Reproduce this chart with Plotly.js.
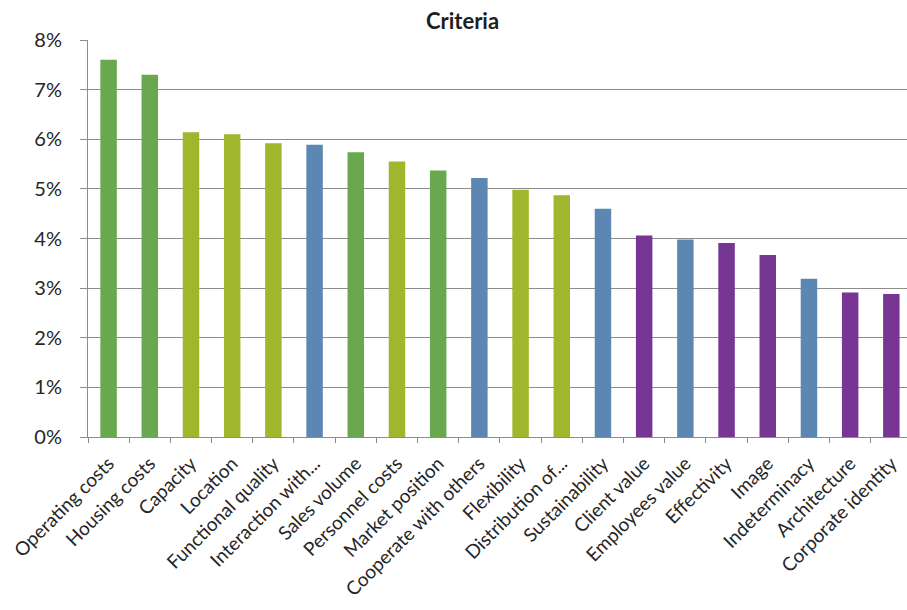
<!DOCTYPE html>
<html>
<head>
<meta charset="utf-8">
<script src="https://cdn.plot.ly/plotly-3.0.1.min.js"></script>
<style>
  html, body { margin: 0; padding: 0; background: #fff; }
  #chart { width: 907px; height: 610px; }
</style>
</head>
<body>
<div id="chart"></div>
<script>
// Criteria weights, in percent
const criteria = [
  "Operating costs", "Housing costs", "Capacity", "Location", "Functional quality",
  "Interaction with...", "Sales volume", "Personnel costs", "Market position",
  "Cooperate with others", "Flexibility", "Distribution of...", "Sustainability",
  "Client value", "Employees value", "Effectivity", "Image", "Indeterminacy",
  "Architecture", "Corporate identity"
];
const weights = [
  7.60, 7.30, 6.14, 6.10, 5.92,
  5.89, 5.74, 5.55, 5.37,
  5.22, 4.98, 4.87, 4.60,
  4.06, 3.98, 3.91, 3.67, 3.19,
  2.91, 2.88
];
// Group of each criterion (sets the bar colour)
const groups = [
  "cost", "cost", "function", "function", "function",
  "relation", "cost", "function", "cost",
  "relation", "function", "function", "relation",
  "value", "relation", "value", "value", "relation",
  "value", "value"
];
const groupColors = {
  cost: "#6aa84f",
  function: "#a0b62c",
  relation: "#5b87b2",
  value: "#773594"
};

const trace = {
  type: "bar",
  x: criteria,
  y: weights,
  width: 0.4,
  marker: { color: groups.map(g => groupColors[g]) },
  hoverinfo: "x+y"
};

const layout = {
  width: 907,
  height: 610,
  margin: { l: 88, r: 0, t: 40, b: 173 },
  paper_bgcolor: "#ffffff",
  plot_bgcolor: "#ffffff",
  font: { family: "Lato, 'Open Sans', sans-serif", color: "#262626" },
  title: {
    text: "<b>Criteria</b>",
    font: { size: 22, color: "#1e1e1e" },
    xref: "container", x: 0.51, xanchor: "center",
    yref: "container", y: 0.965, yanchor: "middle"
  },
  showlegend: false,
  xaxis: {
    type: "category",
    range: [-0.5, 19.38],
    tickangle: -45,
    tickfont: { size: 19, color: "#262626" },
    ticklabelstandoff: 7,
    showline: true, linecolor: "#8c8c8c", linewidth: 1,
    ticks: "outside", tickson: "boundaries", ticklen: 5, tickcolor: "#8c8c8c",
    showgrid: false,
    fixedrange: true
  },
  yaxis: {
    range: [0, 8],
    dtick: 1,
    ticksuffix: "%",
    tickfont: { size: 20, color: "#262626" },
    ticklabelstandoff: 14,
    showline: true, linecolor: "#8c8c8c", linewidth: 1,
    ticks: "outside", ticklen: 7, tickcolor: "#8c8c8c",
    showgrid: true, gridcolor: "#8c8c8c", gridwidth: 1,
    zeroline: false,
    fixedrange: true
  }
};

Plotly.newPlot("chart", [trace], layout, { displayModeBar: false, staticPlot: true });
</script>
</body>
</html>
